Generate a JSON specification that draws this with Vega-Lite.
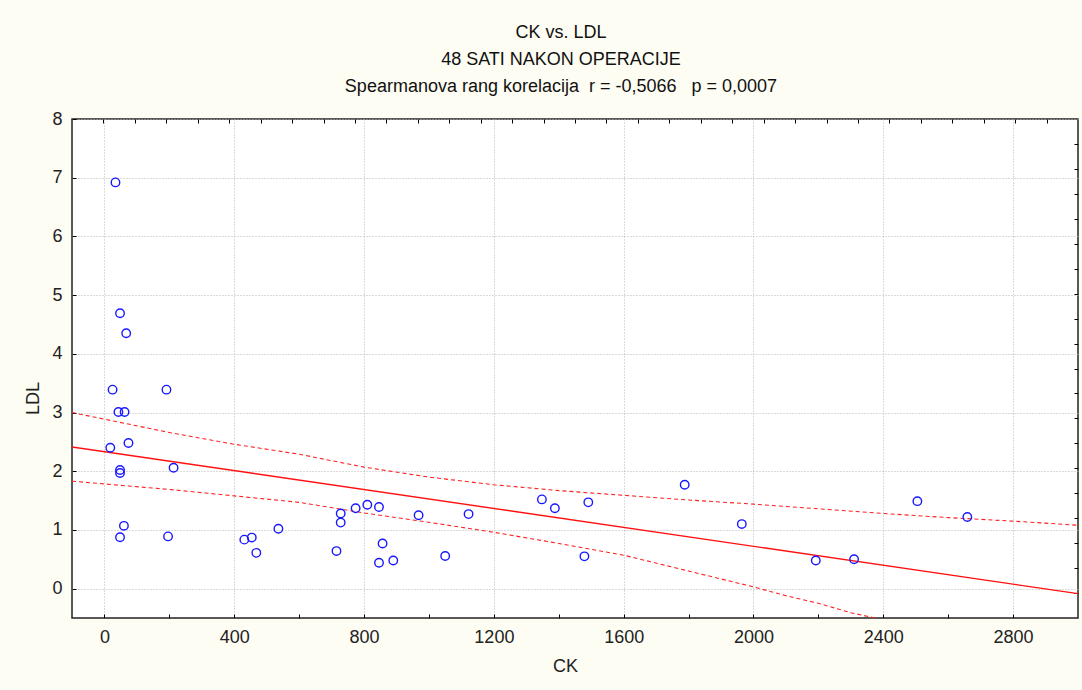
{
  "$schema": "https://vega.github.io/schema/vega-lite/v6.json",
  "width": 1006,
  "height": 499,
  "autosize": {"type": "none"},
  "padding": {"left": 72, "top": 119, "right": 4, "bottom": 72},
  "background": "#FEFDF4",
  "config": {
    "view": {"fill": "white", "stroke": "#222222", "strokeWidth": 1.5},
    "font": "Liberation Sans"
  },
  "title": {
    "text": ["CK vs. LDL", "48 SATI NAKON OPERACIJE", "Spearmanova rang korelacija\u00a0\u00a0r = -0,5066\u00a0\u00a0\u00a0p = 0,0007"],
    "fontSize": 18,
    "font": "Liberation Sans",
    "fontWeight": "normal",
    "lineHeight": 27,
    "anchor": "middle",
    "frame": "group",
    "dx": -14,
    "offset": 14,
    "color": "#111111"
  },
  "datasets": {
    "points": [
      {"CK": 34, "LDL": 6.92}, {"CK": 48, "LDL": 4.69}, {"CK": 67, "LDL": 4.35},
      {"CK": 25, "LDL": 3.39}, {"CK": 191, "LDL": 3.39}, {"CK": 43, "LDL": 3.01},
      {"CK": 62, "LDL": 3.01}, {"CK": 18, "LDL": 2.40}, {"CK": 74, "LDL": 2.48},
      {"CK": 48, "LDL": 2.02}, {"CK": 48, "LDL": 1.97}, {"CK": 213, "LDL": 2.06},
      {"CK": 60, "LDL": 1.07}, {"CK": 48, "LDL": 0.875}, {"CK": 196, "LDL": 0.89},
      {"CK": 536, "LDL": 1.02}, {"CK": 431, "LDL": 0.835}, {"CK": 454, "LDL": 0.87},
      {"CK": 468, "LDL": 0.61}, {"CK": 715, "LDL": 0.64}, {"CK": 728, "LDL": 1.28},
      {"CK": 728, "LDL": 1.125}, {"CK": 774, "LDL": 1.37}, {"CK": 810, "LDL": 1.43},
      {"CK": 846, "LDL": 1.39}, {"CK": 857, "LDL": 0.77}, {"CK": 846, "LDL": 0.44},
      {"CK": 890, "LDL": 0.48}, {"CK": 968, "LDL": 1.25}, {"CK": 1050, "LDL": 0.556},
      {"CK": 1122, "LDL": 1.27}, {"CK": 1348, "LDL": 1.52}, {"CK": 1388, "LDL": 1.37},
      {"CK": 1479, "LDL": 0.55}, {"CK": 1491, "LDL": 1.47}, {"CK": 1788, "LDL": 1.77},
      {"CK": 1964, "LDL": 1.10}, {"CK": 2192, "LDL": 0.48}, {"CK": 2310, "LDL": 0.50},
      {"CK": 2505, "LDL": 1.49}, {"CK": 2659, "LDL": 1.22}
    ],
    "fit": [
      {"CK": -100, "LDL": 2.414}, {"CK": 3000, "LDL": -0.085}
    ],
    "upper": [
      {"CK": -100, "LDL": 3.00}, {"CK": 200, "LDL": 2.66}, {"CK": 400, "LDL": 2.46},
      {"CK": 600, "LDL": 2.29}, {"CK": 800, "LDL": 2.07}, {"CK": 1000, "LDL": 1.90},
      {"CK": 1200, "LDL": 1.77}, {"CK": 1400, "LDL": 1.67}, {"CK": 1600, "LDL": 1.59},
      {"CK": 1800, "LDL": 1.51}, {"CK": 2000, "LDL": 1.44}, {"CK": 2200, "LDL": 1.36},
      {"CK": 2400, "LDL": 1.28}, {"CK": 2600, "LDL": 1.21}, {"CK": 2800, "LDL": 1.15},
      {"CK": 3000, "LDL": 1.08}
    ],
    "lower": [
      {"CK": -100, "LDL": 1.83}, {"CK": 200, "LDL": 1.69}, {"CK": 400, "LDL": 1.58},
      {"CK": 600, "LDL": 1.47}, {"CK": 800, "LDL": 1.29}, {"CK": 1000, "LDL": 1.13},
      {"CK": 1200, "LDL": 0.96}, {"CK": 1400, "LDL": 0.77}, {"CK": 1600, "LDL": 0.57},
      {"CK": 1800, "LDL": 0.30}, {"CK": 2000, "LDL": 0.03}, {"CK": 2100, "LDL": -0.12},
      {"CK": 2200, "LDL": -0.25}, {"CK": 2300, "LDL": -0.41}, {"CK": 2400, "LDL": -0.53},
      {"CK": 2600, "LDL": -0.85}
    ]
  },
  "resolve": {"scale": {"x": "independent", "y": "independent"}},
  "layer": [
    {
      "data": {"name": "fit"},
      "mark": {"type": "line", "opacity": 0, "clip": true},
      "encoding": {
        "x": {"field": "CK", "type": "quantitative", "scale": {"domain": [-100, 3000], "nice": false, "zero": false},
          "axis": {
            "orient": "top", "values": [-3.125, 93.75, 190.625, 287.5, 384.375, 481.25, 578.125, 675, 771.875, 868.75, 965.625, 1062.5, 1159.375, 1256.25, 1353.125, 1450, 1546.875, 1643.75, 1740.625, 1837.5, 1934.375, 2031.25, 2128.125, 2225, 2321.875, 2418.75, 2515.625, 2612.5, 2709.375, 2806.25, 2903.125],
            "labels": false, "grid": false, "domain": false, "tickSize": -4, "tickColor": "#000000", "tickWidth": 1, "title": null
          }},
        "y": {"field": "LDL", "type": "quantitative", "scale": {"domain": [-0.5, 8], "nice": false, "zero": false},
          "axis": {
            "orient": "right", "values": [-0.075, 0.35, 0.775, 1.2, 1.625, 2.05, 2.475, 2.9, 3.325, 3.75, 4.175, 4.6, 5.025, 5.45, 5.875, 6.3, 6.725, 7.15, 7.575],
            "labels": false, "grid": false, "domain": false, "tickSize": -4, "tickColor": "#000000", "tickWidth": 1, "title": null
          }}
      }
    },
    {
      "layer": [
        {
          "data": {"name": "upper"},
          "mark": {"type": "line", "color": "#FF2020", "strokeWidth": 1.1, "strokeDash": [4, 3], "clip": true},
          "encoding": {
            "x": {"field": "CK", "type": "quantitative", "scale": {"domain": [-100, 3000], "nice": false, "zero": false},
              "axis": {
                "orient": "bottom",
                "values": [0, 100, 200, 300, 400, 500, 600, 700, 800, 900, 1000, 1100, 1200, 1300, 1400, 1500, 1600, 1700, 1800, 1900, 2000, 2100, 2200, 2300, 2400, 2500, 2600, 2700, 2800, 2900],
                "format": "d",
                "labelExpr": "datum.value % 400 === 0 ? datum.label : ''",
                "labelOverlap": false, "labelBound": false, "labelFlush": false,
                "labelFont": "Liberation Sans", "labelFontSize": 18, "labelColor": "#222222", "labelPadding": 14,
                "grid": true,
                "gridOpacity": {"condition": {"test": "datum.value % 400 === 0", "value": 1}, "value": 0},
                "gridColor": "#B4B4B4", "gridDash": [1, 2], "gridWidth": 1,
                "domain": false, "tickSize": -4, "tickColor": "#000000", "tickWidth": 1,
                "title": "CK", "titleFont": "Liberation Sans", "titleFontSize": 18, "titleFontWeight": "normal", "titleColor": "#222222",
                "titleX": 493, "titleY": 48, "titleAlign": "center", "titleBaseline": "middle"
              }},
            "y": {"field": "LDL", "type": "quantitative", "scale": {"domain": [-0.5, 8], "nice": false, "zero": false},
              "axis": {
                "orient": "left",
                "values": [0, 1, 2, 3, 4, 5, 6, 7, 8],
                "format": "d",
                "labelOverlap": false, "labelBound": false, "labelFlush": false,
                "labelFont": "Liberation Sans", "labelFontSize": 18, "labelColor": "#222222", "labelPadding": 14,
                "grid": true,
                "gridColor": "#B4B4B4", "gridDash": [1, 2], "gridWidth": 1,
                "domain": false, "tickSize": -4, "tickColor": "#000000", "tickWidth": 1,
                "title": "LDL", "titleFont": "Liberation Sans", "titleFontSize": 18, "titleFontWeight": "normal", "titleColor": "#222222",
                "titleX": -39, "titleY": 279, "titleAngle": -90, "titleAlign": "center", "titleBaseline": "middle"
              }}
          }
        },
        {
          "data": {"name": "lower"},
          "mark": {"type": "line", "color": "#FF2020", "strokeWidth": 1.1, "strokeDash": [4, 3], "clip": true},
          "encoding": {
            "x": {"field": "CK", "type": "quantitative"},
            "y": {"field": "LDL", "type": "quantitative"}
          }
        },
        {
          "data": {"name": "fit"},
          "mark": {"type": "line", "color": "#FF1010", "strokeWidth": 1.4, "clip": true},
          "encoding": {
            "x": {"field": "CK", "type": "quantitative"},
            "y": {"field": "LDL", "type": "quantitative"}
          }
        },
        {
          "data": {"name": "points"},
          "mark": {"type": "point", "shape": "circle", "filled": false, "color": "#1818FF", "size": 72, "strokeWidth": 1.4, "opacity": 1, "clip": true},
          "encoding": {
            "x": {"field": "CK", "type": "quantitative"},
            "y": {"field": "LDL", "type": "quantitative"}
          }
        }
      ]
    }
  ]
}
